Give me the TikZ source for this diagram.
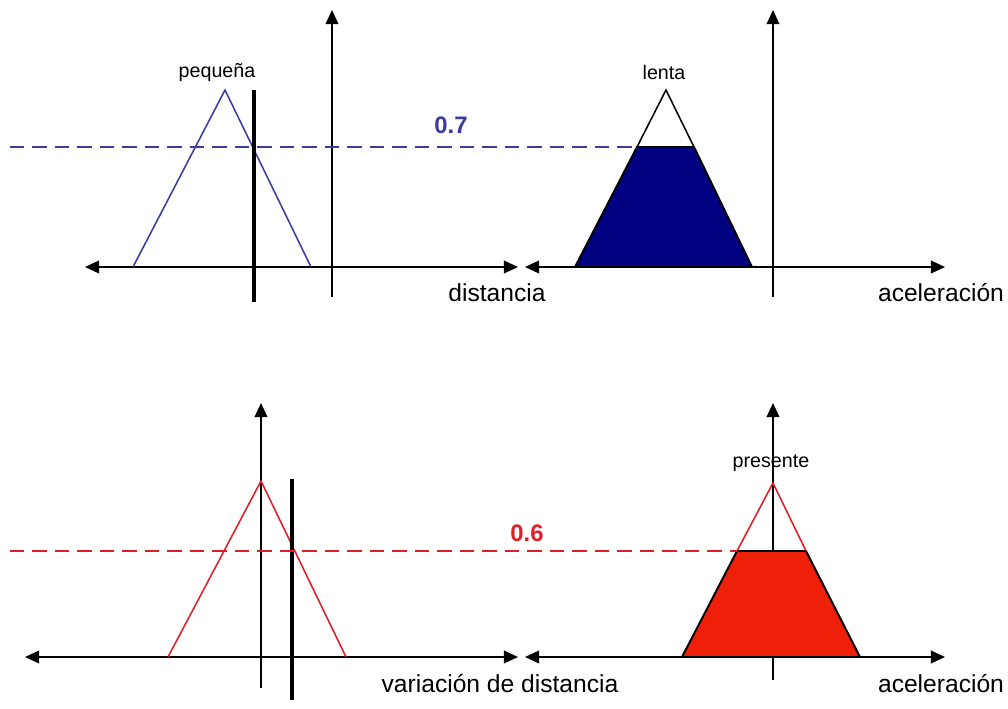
\documentclass[tikz,border=0pt]{standalone}
\usepackage{fontspec}
\setmainfont{Liberation Sans}
\usetikzlibrary{arrows.meta}
\definecolor{setblue}{RGB}{60,60,160}
\definecolor{navyfill}{RGB}{0,0,128}
\definecolor{setred}{RGB}{225,30,40}
\definecolor{redfill}{RGB}{238,32,10}

\begin{document}
\begin{tikzpicture}[>={Triangle[length=10pt,width=9pt]},x=0.025cm,y=-0.025cm,
  axis/.style={->,line width=1.2pt},
  haxis/.style={<->,line width=1.2pt},
  cut/.style={line width=2.4pt},
  setline/.style={line width=1.1pt},
  lbl/.style={font=\fontsize{14}{16}\selectfont},
  axlbl/.style={font=\fontsize{17.5}{20}\selectfont},
  deg/.style={font=\bfseries\fontsize{17}{20}\selectfont}]
  \useasboundingbox (0,0) rectangle (1008,709);

  % distancia: pequena
  \coordinate (d-l) at (85,267);
  \coordinate (d-r) at (518,267);
  \coordinate (d-b) at (332,297);
  \coordinate (d-t) at (332,10);
  \draw[haxis] (d-l) -- (d-r);
  \draw[axis] (d-b) -- (d-t);
  \draw[setblue,setline] (133,267) -- (225,90) -- (311,267);
  \draw[cut] (254,90) -- (254,302);
  \node[lbl] (peq) at (217,72) {pequeña};
  \node[axlbl] (dist) at (497,293) {distancia};

  % aceleracion: lenta
  \coordinate (a1-l) at (525,267);
  \coordinate (a1-r) at (945,267);
  \coordinate (a1-b) at (773,297);
  \coordinate (a1-t) at (773,10);
  \draw[haxis] (a1-l) -- (a1-r);
  \draw[axis] (a1-b) -- (a1-t);
  \draw[fill=navyfill,line width=1.4pt,line join=round] (575,267) -- (637,147) -- (694,147) -- (752,267) -- cycle;
  \draw[setline] (637,147) -- (666,90) -- (694,147);
  \node[lbl] (lenta) at (664,72) {lenta};
  \node[axlbl] (acel1) at (941,293) {aceleración};

  % grado 0.7
  \draw[setblue,setline,dash pattern=on 10pt off 6pt] (10,147) -- (637,147);
  \node[deg,text=setblue] (g1) at (451,125) {0.7};

  % variacion de distancia: =
  \coordinate (v-l) at (25,657);
  \coordinate (v-r) at (518,657);
  \coordinate (v-b) at (261,688);
  \coordinate (v-t) at (261,403);
  \draw[haxis] (v-l) -- (v-r);
  \draw[axis] (v-b) -- (v-t);
  \draw[setred,setline] (168,657) -- (261,481) -- (346,657);
  \draw[cut] (292,479) -- (292,700);
  \node[axlbl] (vdist) at (500,684) {variación de distancia};

  % aceleracion: presente
  \coordinate (a2-l) at (525,657);
  \coordinate (a2-r) at (945,657);
  \coordinate (a2-b) at (773,680);
  \coordinate (a2-t) at (773,403);
  \draw[haxis] (a2-l) -- (a2-r);
  \draw[axis] (a2-b) -- (a2-t);
  \draw[fill=redfill,line width=1.4pt,line join=round] (682,657) -- (737,551) -- (806,551) -- (860,657) -- cycle;
  \draw[setred,setline] (737,551) -- (773,483) -- (806,551);
  \node[lbl] (pres) at (771,463) {presente};
  \node[axlbl] (acel2) at (941,684) {aceleración};

  % grado 0.6
  \draw[setred,setline,dash pattern=on 10pt off 6pt] (10,551) -- (737,551);
  \node[deg,text=setred] (g2) at (527,533) {0.6};
\end{tikzpicture}
\end{document}
